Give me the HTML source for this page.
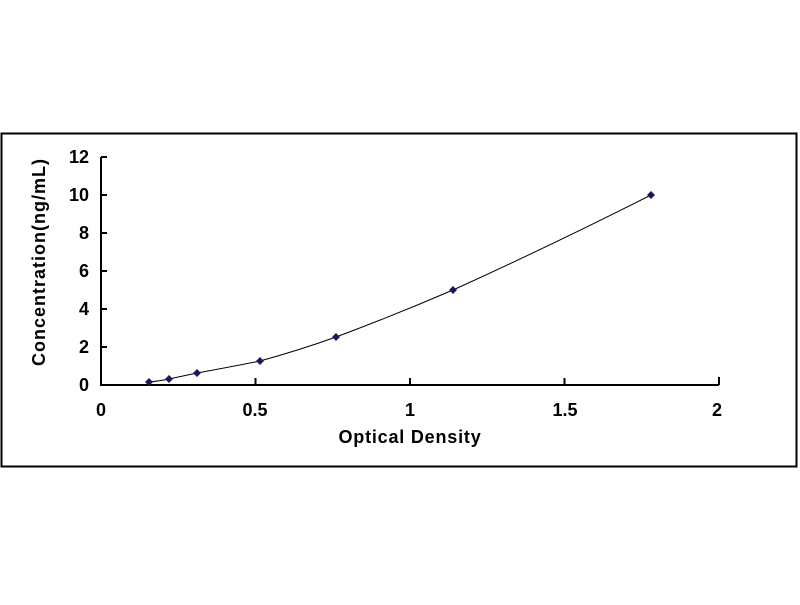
<!DOCTYPE html><html><head><style>body{margin:0;background:#fff}</style></head><body>
<svg width="800" height="600" xmlns="http://www.w3.org/2000/svg" font-family="Liberation Sans, Arial, sans-serif" font-weight="bold">
<rect x="1.5" y="133.5" width="795" height="333" fill="#fff" stroke="#000" stroke-width="2"/>
<g stroke="#000" stroke-width="2" fill="none">
<path d="M101 157V385H719"/>
<path d="M101 157h6M101 195h6M101 233h6M101 271h6M101 309h6M101 347h6"/>
<path d="M255.5 385v-7M410 385v-7M564.5 385v-7M719 385v-8"/>
</g>
<g font-size="18" text-anchor="end">
<text x="89" y="163">12</text><text x="89" y="201">10</text><text x="89" y="239">8</text><text x="89" y="277">6</text><text x="89" y="315">4</text><text x="89" y="353">2</text><text x="89" y="391">0</text>
</g>
<g font-size="18" text-anchor="middle">
<text x="101" y="416">0</text><text x="255" y="416">0.5</text><text x="410" y="416">1</text><text x="565" y="416">1.5</text><text x="717" y="416">2</text>
</g>
<text x="410" y="443" font-size="18" letter-spacing="0.8" text-anchor="middle">Optical Density</text>
<text transform="translate(45,262) rotate(-90)" font-size="18" letter-spacing="1" text-anchor="middle">Concentration(ng/mL)</text>
<path fill="none" stroke="#000" stroke-width="1" d="M149 382Q160 381 169 379T197 373Q230 367 260 361Q300 350 336 337Q395 315 453 290Q550 246 651 195"/>
<g fill="#1a1a5a">
<path d="M149 378l4 4-4 4-4-4z"/><path d="M169 375l4 4-4 4-4-4z"/><path d="M197 369l4 4-4 4-4-4z"/><path d="M260 357l4 4-4 4-4-4z"/><path d="M336 333l4 4-4 4-4-4z"/><path d="M453 286l4 4-4 4-4-4z"/><path d="M651 191l4 4-4 4-4-4z"/>
</g>
</svg></body></html>
